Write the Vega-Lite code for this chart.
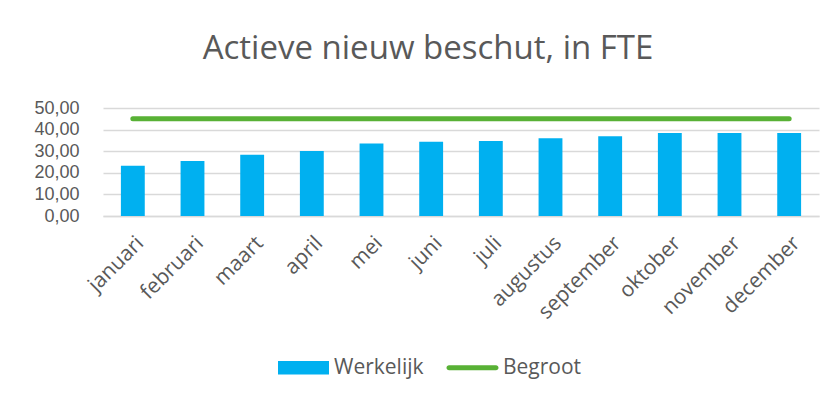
{
  "$schema": "https://vega.github.io/schema/vega-lite/v6.json",
  "width": 716,
  "height": 108,
  "autosize": {"type": "none"},
  "padding": {"left": 103, "top": 108, "right": 19, "bottom": 184},
  "background": "white",
  "config": {
    "locale": {"number": {"decimal": ",", "thousands": ".", "grouping": [3], "currency": ["€", ""]}},
    "font": "Open Sans",
    "view": {"stroke": null}
  },
  "title": {
    "text": "Actieve nieuw beschut, in FTE",
    "font": "Open Sans",
    "fontSize": 33,
    "fontWeight": "normal",
    "color": "#595959",
    "anchor": "middle",
    "frame": "group",
    "dx": -33,
    "offset": 33
  },
  "data": {
    "values": [
      {"maand": "januari", "werkelijk": 23.3, "begroot": 45},
      {"maand": "februari", "werkelijk": 25.5, "begroot": 45},
      {"maand": "maart", "werkelijk": 28.4, "begroot": 45},
      {"maand": "april", "werkelijk": 30.1, "begroot": 45},
      {"maand": "mei", "werkelijk": 33.6, "begroot": 45},
      {"maand": "juni", "werkelijk": 34.4, "begroot": 45},
      {"maand": "juli", "werkelijk": 34.7, "begroot": 45},
      {"maand": "augustus", "werkelijk": 36.0, "begroot": 45},
      {"maand": "september", "werkelijk": 36.9, "begroot": 45},
      {"maand": "oktober", "werkelijk": 38.4, "begroot": 45},
      {"maand": "november", "werkelijk": 38.4, "begroot": 45},
      {"maand": "december", "werkelijk": 38.4, "begroot": 45}
    ]
  },
  "encoding": {
    "x": {
      "field": "maand",
      "type": "nominal",
      "sort": null,
      "scale": {"paddingInner": 0.6, "paddingOuter": 0.3},
      "axis": {
        "title": null,
        "labelAngle": -45,
        "labelFontSize": 21,
        "labelColor": "#595959",
        "labelPadding": 16,
        "labelDx": -4,
        "labelOverlap": false,
        "ticks": false,
        "domainColor": "#d9d9d9",
        "domainWidth": 1.5
      }
    }
  },
  "layer": [
    {
      "mark": {"type": "bar", "color": "#00B0F0"},
      "encoding": {
        "y": {
          "field": "werkelijk",
          "type": "quantitative",
          "scale": {"domain": [0, 50], "nice": false},
          "axis": {
            "title": null,
            "values": [0, 10, 20, 30, 40, 50],
            "tickCount": 6,
            "format": ",.2f",
            "labelFont": "Liberation Sans",
            "labelFontSize": 18,
            "labelColor": "#595959",
            "labelPadding": 24,
            "labelOverlap": false,
            "labelFlush": false,
            "ticks": false,
            "domain": false,
            "grid": true,
            "gridColor": "#d9d9d9",
            "gridWidth": 1.5
          }
        },
        "color": {
          "datum": "Werkelijk",
          "type": "nominal",
          "scale": {"domain": ["Werkelijk", "Begroot"], "range": ["#00B0F0", "#58B135"]},
          "legend": {
            "title": null,
            "orient": "none",
            "direction": "horizontal",
            "legendX": 175,
            "legendY": 234,
            "labelFontSize": 21,
            "labelColor": "#595959",
            "labelOffset": 5,
            "columnPadding": 22,
            "symbolSize": 2601,
            "symbolType": "M-1,-0.26H1V0.26H-1Z",
            "encode": {
              "symbols": {
                "update": {
                  "shape": {"signal": "datum.value === 'Werkelijk' ? 'M-1,-0.26H1V0.26H-1Z' : 'M-1,-0.26L-1,-0.26M-0.92,-0.1H0.92A0.1,0.1,0,0,1,0.92,0.1H-0.92A0.1,0.1,0,0,1,-0.92,-0.1ZM1,0.26L1,0.26'"},
                  "fill": {"signal": "datum.value === 'Werkelijk' ? '#00B0F0' : '#58B135'"},
                  "stroke": {"value": "transparent"},
                  "strokeWidth": {"value": 0},
                  "opacity": {"value": 1}
                }
              }
            }
          }
        }
      }
    },
    {
      "mark": {"type": "line", "color": "#58B135", "strokeWidth": 5, "strokeCap": "round"},
      "encoding": {
        "y": {
          "field": "begroot",
          "type": "quantitative",
          "scale": {"domain": [0, 50], "nice": false},
          "axis": {
            "title": null,
            "values": [0, 10, 20, 30, 40, 50],
            "tickCount": 6,
            "format": ",.2f",
            "labelFont": "Liberation Sans",
            "labelFontSize": 18,
            "labelColor": "#595959",
            "labelPadding": 24,
            "labelOverlap": false,
            "labelFlush": false,
            "ticks": false,
            "domain": false,
            "grid": true,
            "gridColor": "#d9d9d9",
            "gridWidth": 1.5
          }
        },
        "color": {"datum": "Begroot", "type": "nominal"}
      }
    }
  ]
}
